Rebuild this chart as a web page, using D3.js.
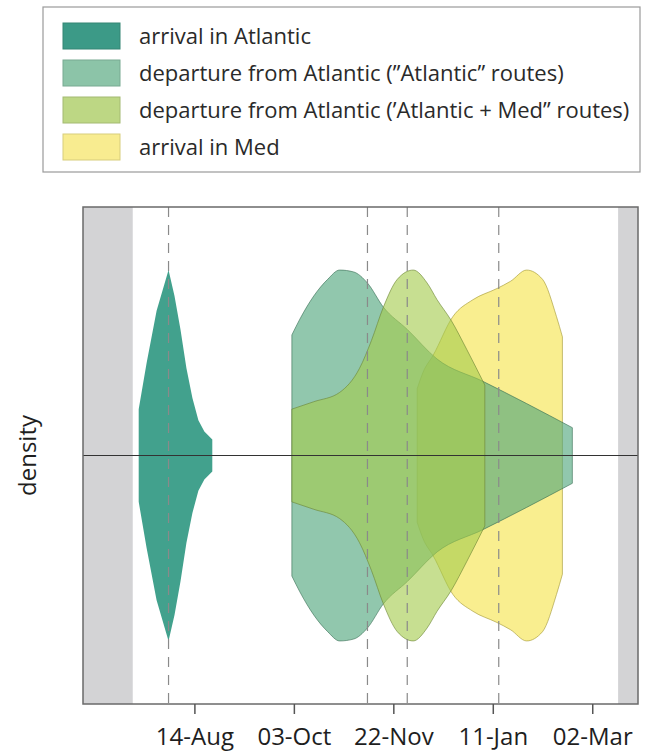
<!DOCTYPE html>
<html>
<head>
<meta charset="utf-8">
<script src="https://cdn.jsdelivr.net/npm/d3@7"></script>
<style>
  body { margin: 0; background: #fff; }
  svg { display: block; font-family: "Open Sans", "Noto Sans", sans-serif; }
</style>
</head>
<body>
<svg id="chart"></svg>
<script>
// Timing data: dates and relative density (half-width, 0..1)
const parseDate = d3.timeParse("%Y-%m-%d");

const seriesNames = [
  "arrival in Atlantic",
  "departure from Atlantic (\u201dAtlantic\u201d routes)",
  "departure from Atlantic (\u2019Atlantic + Med\u201d routes)",
  "arrival in Med"
];

const arrivalAtlantic = [
  ["2013-07-17", 0.25], ["2013-07-21", 0.50], ["2013-07-26", 0.78], ["2013-08-01", 1.00],
  ["2013-08-04", 0.86], ["2013-08-07", 0.68], ["2013-08-10", 0.47], ["2013-08-13", 0.31],
  ["2013-08-16", 0.19], ["2013-08-19", 0.13], ["2013-08-23", 0.086]
];

const departureAtlantic = [
  ["2013-10-02", 0.65], ["2013-10-06", 0.735], ["2013-10-13", 0.86], ["2013-10-20", 0.95],
  ["2013-10-26", 1.00], ["2013-11-02", 0.99], ["2013-11-09", 0.93], ["2013-11-17", 0.80],
  ["2013-11-29", 0.68], ["2013-12-14", 0.52], ["2014-01-06", 0.40], ["2014-01-28", 0.28],
  ["2014-02-20", 0.15]
];

const departureAtlMed = [
  ["2013-10-02", 0.25], ["2013-10-13", 0.29], ["2013-10-26", 0.34], ["2013-11-05", 0.47],
  ["2013-11-11", 0.62], ["2013-11-17", 0.80], ["2013-11-24", 0.95], ["2013-12-02", 1.00],
  ["2013-12-09", 0.93], ["2013-12-14", 0.84], ["2013-12-21", 0.73], ["2013-12-29", 0.57],
  ["2014-01-07", 0.38]
];

const arrivalMed = [
  ["2013-12-04", 0.36], ["2013-12-07", 0.45], ["2013-12-12", 0.54], ["2013-12-22", 0.75],
  ["2014-01-01", 0.84], ["2014-01-13", 0.90], ["2014-01-20", 0.94], ["2014-01-28", 1.00],
  ["2014-02-05", 0.95], ["2014-02-12", 0.75], ["2014-02-15", 0.64]
];

// dashed reference lines (medians)
const medianDates = ["2013-08-01", "2013-11-09", "2013-11-29", "2014-01-14"];

const xDomain = ["2013-06-19", "2014-03-25"];
const shadedPeriods = [["2013-06-19", "2013-07-14"], ["2014-03-15", "2014-03-25"]];

const tickDates = ["2013-08-14", "2013-10-03", "2013-11-22", "2014-01-11", "2014-03-02"];
const tickLabels = ["14-Aug", "03-Oct", "22-Nov", "11-Jan", "02-Mar"];

// colours
const fillColors = ["#42a18d", "#4ea47a", "#a4cb4e", "#f6e34b"];
const swatchColors = ["#3c9a87", "#8cc4a8", "#bdd784", "#f8ec90"];

// ---------------------------------------------------------------
const width = 646, height = 751;
const margin = {top: 207, right: 8, bottom: 47, left: 83};
const innerW = width - margin.left - margin.right;
const innerH = height - margin.top - margin.bottom;

const svg = d3.select("#chart")
    .attr("width", width)
    .attr("height", height);

const chart = svg.append("g")
    .attr("transform", `translate(${margin.left},${margin.top})`);

const xScale = d3.scaleTime()
    .domain(xDomain.map(parseDate))
    .range([0, innerW]);

const yScale = d3.scaleLinear()
    .domain([-1.34, 1.34])
    .range([innerH, 0]);

// grey shaded periods
chart.selectAll(".shade")
    .data(shadedPeriods)
  .join("rect")
    .attr("class", "shade")
    .attr("x", d => xScale(parseDate(d[0])))
    .attr("width", d => xScale(parseDate(d[1])) - xScale(parseDate(d[0])))
    .attr("y", 0)
    .attr("height", innerH)
    .attr("fill", "#d3d3d5");

// violins
const toPoints = arr => arr.map(([d, h]) => ({date: parseDate(d), h: h}));

const violins = [
  {name: seriesNames[0], pts: toPoints(arrivalAtlantic), color: fillColors[0], opacity: 1, curve: d3.curveLinear},
  {name: seriesNames[3], pts: toPoints(arrivalMed), color: fillColors[3], opacity: 0.62, curve: d3.curveMonotoneX},
  {name: seriesNames[1], pts: toPoints(departureAtlantic), color: fillColors[1], opacity: 0.62, curve: d3.curveMonotoneX},
  {name: seriesNames[2], pts: toPoints(departureAtlMed), color: fillColors[2], opacity: 0.62, curve: d3.curveMonotoneX}
];

violins.forEach(v => {
  const area = d3.area()
      .x(d => xScale(d.date))
      .y0(d => yScale(-d.h))
      .y1(d => yScale(d.h))
      .curve(v.curve);
  chart.append("path")
      .datum(v.pts)
      .attr("class", "violin")
      .attr("d", area)
      .attr("fill", v.color)
      .attr("fill-opacity", v.opacity)
      .attr("stroke", v.opacity < 1 ? d3.color(v.color).darker(1.2) : "none")
      .attr("stroke-opacity", 0.6)
      .attr("stroke-width", 1);
});

// dashed median lines
chart.selectAll(".median")
    .data(medianDates)
  .join("line")
    .attr("class", "median")
    .attr("x1", d => xScale(parseDate(d)))
    .attr("x2", d => xScale(parseDate(d)))
    .attr("y1", 0)
    .attr("y2", innerH)
    .attr("stroke", "#8a8a8a")
    .attr("stroke-width", 1.2)
    .attr("stroke-dasharray", "10,8");

// zero line
chart.append("line")
    .attr("x1", 0).attr("x2", innerW)
    .attr("y1", yScale(0)).attr("y2", yScale(0))
    .attr("stroke", "#333")
    .attr("stroke-width", 1);

// frame
chart.append("rect")
    .attr("width", innerW)
    .attr("height", innerH)
    .attr("fill", "none")
    .attr("stroke", "#6a6a6a")
    .attr("stroke-width", 1.5);

// x axis
const xAxis = d3.axisBottom(xScale)
    .tickValues(tickDates.map(parseDate))
    .tickFormat((d, i) => tickLabels[i])
    .tickSize(10)
    .tickPadding(14);

const xAxisG = chart.append("g")
    .attr("transform", `translate(0,${innerH})`)
    .call(xAxis);
xAxisG.select(".domain").remove();
xAxisG.selectAll(".tick line").attr("stroke", "#555").attr("stroke-width", 1.5);
xAxisG.selectAll(".tick text")
    .attr("fill", "#1e1e1e")
    .style("font-size", "24px")
    .style("font-family", "'Open Sans', sans-serif");

// y label
svg.append("text")
    .attr("transform", `translate(36,${margin.top + yScale(0)}) rotate(-90)`)
    .attr("text-anchor", "middle")
    .attr("fill", "#1e1e1e")
    .style("font-size", "24px")
    .text("density");

// legend
const legend = svg.append("g");
legend.append("rect")
    .attr("x", 43).attr("y", 7)
    .attr("width", 597).attr("height", 165)
    .attr("fill", "#fff")
    .attr("stroke", "#9a9a9a")
    .attr("stroke-width", 1.2);

const rows = legend.selectAll(".row")
    .data(seriesNames)
  .join("g")
    .attr("class", "row")
    .attr("transform", (d, i) => `translate(63,${23 + i * 37})`);

rows.append("rect")
    .attr("width", 57)
    .attr("height", 26)
    .attr("fill", (d, i) => swatchColors[i])
    .attr("stroke", (d, i) => d3.color(swatchColors[i]).darker(0.4))
    .attr("stroke-width", 1);

rows.append("text")
    .attr("x", 76)
    .attr("y", 21)
    .attr("fill", "#2a2a2a")
    .style("font-size", "22px")
    .text(d => d);
</script>
</body>
</html>
